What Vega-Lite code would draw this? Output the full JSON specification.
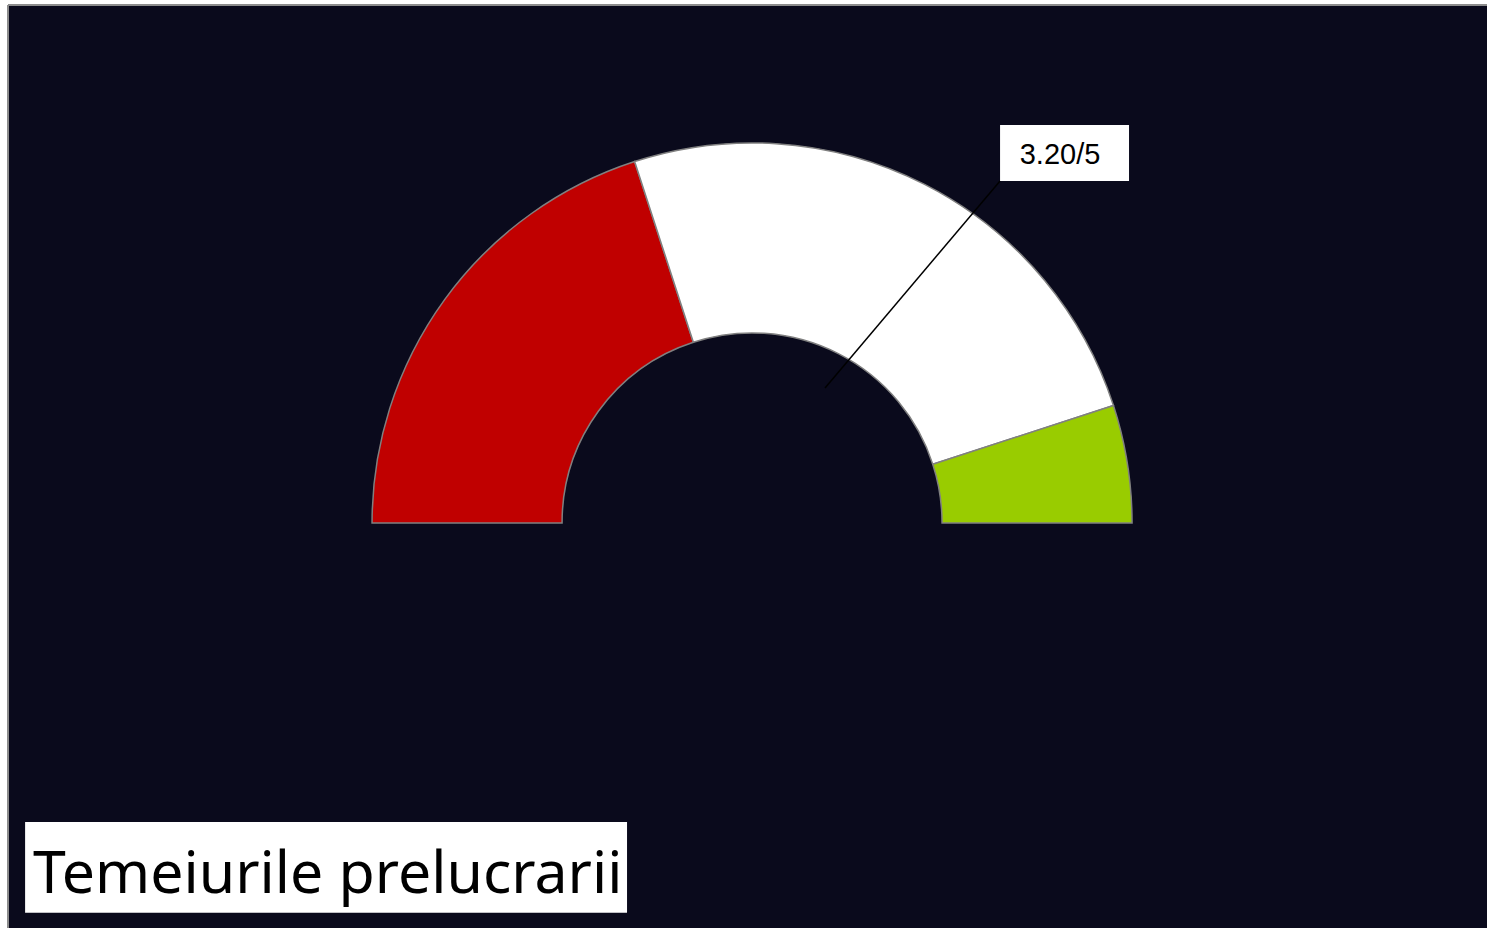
{
  "$schema": "https://vega.github.io/schema/vega-lite/v6.json",
  "width": 1479,
  "height": 923,
  "autosize": {"type": "none"},
  "padding": {"left": 8, "top": 5, "right": 0, "bottom": 0},
  "background": "#ffffff",
  "config": {
    "view": {"fill": "#0a0a1c", "stroke": null},
    "axis": {"disable": true}
  },
  "datasets": {
    "bands": [
      {"band": "low", "start": 0, "end": 2},
      {"band": "mid", "start": 2, "end": 4.5},
      {"band": "high", "start": 4.5, "end": 5}
    ],
    "frame": [
      {"edge": "frame"}
    ],
    "leader": [
      {"x": 0.192, "y": 0.355, "x2": 0.6526, "y2": 0.9}
    ],
    "labelbox": [
      {"x": 0.6526, "x2": 0.992, "y": 0.9, "y2": 1.047, "tx": 0.8105, "ty": 0.968, "label": "3.20/5"}
    ],
    "titlebox": [
      {"x": -1.913, "x2": -0.329, "y": -1.026, "y2": -0.787, "tx": -1.892, "ty": -0.974, "label": "Temeiurile prelucrarii"}
    ]
  },
  "layer": [
    {
      "data": {"name": "bands"},
      "mark": {"type": "arc", "radius": 380, "radius2": 190, "stroke": "#808080", "strokeWidth": 1.5},
      "encoding": {
        "x": {"datum": 0, "type": "quantitative", "scale": {"domain": [-1.958, 1.934], "nice": false, "zero": false}},
        "y": {"datum": 0, "type": "quantitative", "scale": {"domain": [-1.066, 1.363], "nice": false, "zero": false}},
        "theta": {"field": "start", "type": "quantitative", "stack": false, "scale": {"domain": [0, 5], "range": [-1.5708, 1.5708]}},
        "theta2": {"field": "end"},
        "color": {"field": "band", "type": "nominal", "legend": null, "scale": {"domain": ["low", "mid", "high"], "range": ["#c00000", "#ffffff", "#99cc00"]}}
      }
    },
    {
      "data": {"name": "frame"},
      "mark": {"type": "rule", "color": "#8c8c8c", "strokeWidth": 2},
      "encoding": {"x": {"datum": -1.958, "type": "quantitative"}}
    },
    {
      "data": {"name": "frame"},
      "mark": {"type": "rule", "color": "#8c8c8c", "strokeWidth": 2},
      "encoding": {"y": {"datum": 1.363, "type": "quantitative"}}
    },
    {
      "data": {"name": "leader"},
      "mark": {"type": "rule", "color": "#000000", "strokeWidth": 1.5},
      "encoding": {
        "x": {"field": "x", "type": "quantitative"},
        "y": {"field": "y", "type": "quantitative"},
        "x2": {"field": "x2"},
        "y2": {"field": "y2"}
      }
    },
    {
      "data": {"name": "labelbox"},
      "mark": {"type": "rect", "fill": "#ffffff"},
      "encoding": {
        "x": {"field": "x", "type": "quantitative"},
        "x2": {"field": "x2"},
        "y": {"field": "y", "type": "quantitative"},
        "y2": {"field": "y2"}
      }
    },
    {
      "data": {"name": "labelbox"},
      "mark": {"type": "text", "font": "Liberation Sans", "fontSize": 29, "align": "center", "baseline": "middle", "color": "#000000"},
      "encoding": {
        "x": {"field": "tx", "type": "quantitative"},
        "y": {"field": "ty", "type": "quantitative"},
        "text": {"field": "label"}
      }
    },
    {
      "data": {"name": "titlebox"},
      "mark": {"type": "rect", "fill": "#ffffff"},
      "encoding": {
        "x": {"field": "x", "type": "quantitative"},
        "x2": {"field": "x2"},
        "y": {"field": "y", "type": "quantitative"},
        "y2": {"field": "y2"}
      }
    },
    {
      "data": {"name": "titlebox"},
      "mark": {"type": "text", "font": "Noto Sans", "fontSize": 59, "align": "left", "baseline": "alphabetic", "color": "#000000"},
      "encoding": {
        "x": {"field": "tx", "type": "quantitative"},
        "y": {"field": "ty", "type": "quantitative"},
        "text": {"field": "label"}
      }
    }
  ]
}
